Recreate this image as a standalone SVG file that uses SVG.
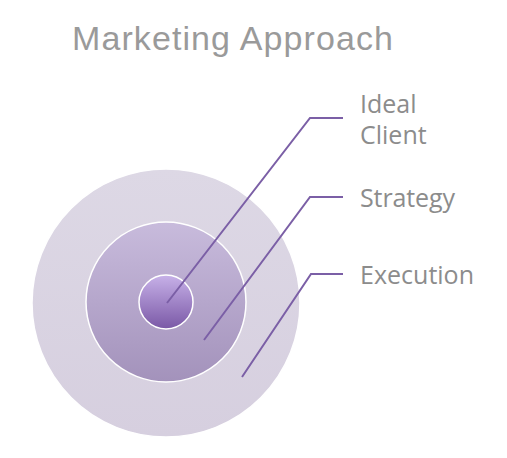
<svg xmlns="http://www.w3.org/2000/svg" width="507" height="458" viewBox="0 0 507 458">
<defs>
<linearGradient id="gOuter" x1="0" y1="0" x2="0" y2="1">
<stop offset="0" stop-color="#ddd8e5"/><stop offset="1" stop-color="#d6cfdf"/>
</linearGradient>
<linearGradient id="gMid" x1="0" y1="0" x2="0" y2="1">
<stop offset="0" stop-color="#c8bbdc"/><stop offset="1" stop-color="#a392bb"/>
</linearGradient>
<linearGradient id="gIn" x1="0" y1="0" x2="0" y2="1">
<stop offset="0" stop-color="#c7b1e8"/><stop offset="1" stop-color="#7a58a6"/>
</linearGradient>
<style>
.ring{stroke:#ffffff;stroke-width:1.5}
.lbl{font-family:"Open Sans","Liberation Sans",sans-serif;font-size:25px;fill:#8c8c8c}
.ttl{font-family:"Liberation Sans",Arial,sans-serif;font-size:34px;fill:#9a9a9a}
.conn{fill:none;stroke:#7b5fa6;stroke-width:2}
</style>
</defs>
<text class="ttl" x="72" y="50" textLength="321">Marketing Approach</text>
<g id="execution"><circle class="ring" cx="166" cy="303" r="134" fill="url(#gOuter)"/><text class="lbl" x="360" y="284" textLength="114">Execution</text></g>
<g id="strategy"><circle class="ring" cx="166" cy="302" r="80" fill="url(#gMid)"/><text class="lbl" x="360" y="207" textLength="95">Strategy</text></g>
<g id="ideal-client"><circle class="ring" cx="166" cy="302" r="27" fill="url(#gIn)"/><text class="lbl" x="360" y="113">Ideal</text><text class="lbl" x="360" y="144">Client</text></g>
<g id="connectors">
<polyline class="conn" points="167,303 310,118 343,118"/>
<polyline class="conn" points="204,340 310,197 343,197"/>
<polyline class="conn" points="242,377 311,274 343,274"/>
</g>
</svg>
